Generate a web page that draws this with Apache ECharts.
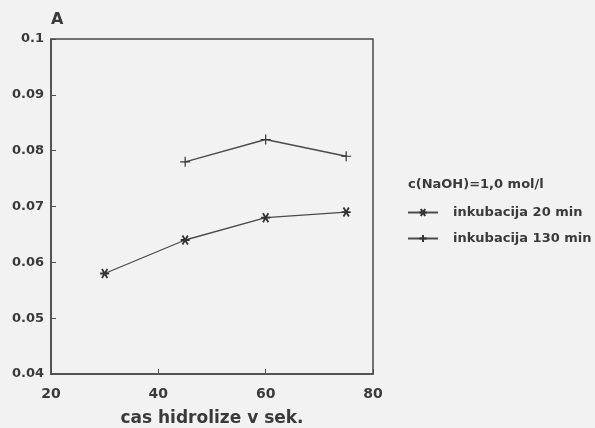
<!DOCTYPE html>
<html>
<head>
<meta charset="utf-8">
<script src="https://cdn.jsdelivr.net/npm/echarts@6/dist/echarts.min.js"></script>
<style>
  html, body { margin: 0; padding: 0; background: #f2f2f2; }
  #chart { width: 595px; height: 428px; }
</style>
</head>
<body>
<div id="chart"></div>
<script>
// data
const time20 = [30, 45, 60, 75]
const abs20 = [0.058, 0.064, 0.068, 0.069]
const time130 = [45, 60, 75]
const abs130 = [0.078, 0.082, 0.079]
const yTickLabels = ['0.04', '0.05', '0.06', '0.07', '0.08', '0.09', '0.1']
const xTickLabels = ['20', '40', '60', '80']

const ink = '#4a4a4a'
const textColor = '#3a3a3a'
const font = 'DejaVu Sans, Verdana, sans-serif'

const starIcon = 'path://M0,5L10,5M2,1L8,9M8,1L2,9'
const plusIcon = 'path://M0,5L10,5M5,0L5,10'

const chart = echarts.init(document.getElementById('chart'))

const option = {
  backgroundColor: '#f2f2f2',
  animation: false,
  title: {
    text: 'c(NaOH)=1,0 mol/l',
    left: 403,
    top: 173,
    textStyle: { fontSize: 13, fontWeight: 'bold', color: textColor, fontFamily: font }
  },
  legend: {
    orient: 'vertical',
    left: 402,
    top: 201,
    itemWidth: 30,
    itemHeight: 9,
    itemGap: 13,
    textStyle: { fontSize: 13, fontWeight: 'bold', color: textColor, fontFamily: font, padding: [0, 0, 0, 10] },
    data: ['inkubacija 20 min', 'inkubacija 130 min']
  },
  grid: {
    left: 51,
    top: 39,
    right: 222,
    bottom: 54,
    outerBoundsMode: 'none',
    show: true,
    borderColor: ink,
    borderWidth: 1.5
  },
  xAxis: {
    type: 'value',
    min: 20,
    max: 80,
    interval: 20,
    name: 'cas hidrolize v sek.',
    nameLocation: 'middle',
    nameGap: 36,
    nameTextStyle: { fontSize: 17, fontWeight: 'bold', color: textColor, fontFamily: font },
    axisLine: { show: true, lineStyle: { color: ink, width: 1.5 } },
    axisTick: { inside: true, length: 5, lineStyle: { color: ink } },
    splitLine: { show: false },
    axisLabel: {
      margin: 13,
      fontSize: 14,
      fontWeight: 'bold',
      color: textColor,
      fontFamily: font,
      formatter: v => xTickLabels[Math.round((v - 20) / 20)]
    }
  },
  yAxis: {
    type: 'value',
    min: 0.04,
    max: 0.1,
    interval: 0.01,
    name: 'A',
    nameLocation: 'end',
    nameGap: 11,
    nameTextStyle: { fontSize: 16, fontWeight: 'bold', color: textColor, fontFamily: font, align: 'left' },
    axisLine: { show: true, lineStyle: { color: ink, width: 1.5 } },
    axisTick: { show: true, inside: true, length: 5, lineStyle: { color: ink } },
    splitLine: { show: false },
    axisLabel: {
      margin: 7,
      fontSize: 13,
      fontWeight: 'bold',
      color: textColor,
      fontFamily: font,
      formatter: v => yTickLabels[Math.round((v - 0.04) / 0.01)]
    }
  },
  series: [
    {
      name: 'inkubacija 20 min',
      type: 'line',
      data: time20.map((t, i) => [t, abs20[i]]),
      symbol: starIcon,
      symbolSize: 9,
      lineStyle: { color: ink, width: 1.3 },
      itemStyle: { color: 'none', borderColor: '#333', borderWidth: 1.8 }
    },
    {
      name: 'inkubacija 130 min',
      type: 'line',
      data: time130.map((t, i) => [t, abs130[i]]),
      symbol: plusIcon,
      symbolSize: 10,
      lineStyle: { color: ink, width: 1.3 },
      itemStyle: { color: 'none', borderColor: '#333', borderWidth: 1.2 }
    }
  ]
}

chart.setOption(option)
window.addEventListener('resize', () => chart.resize())
</script>
</body>
</html>
